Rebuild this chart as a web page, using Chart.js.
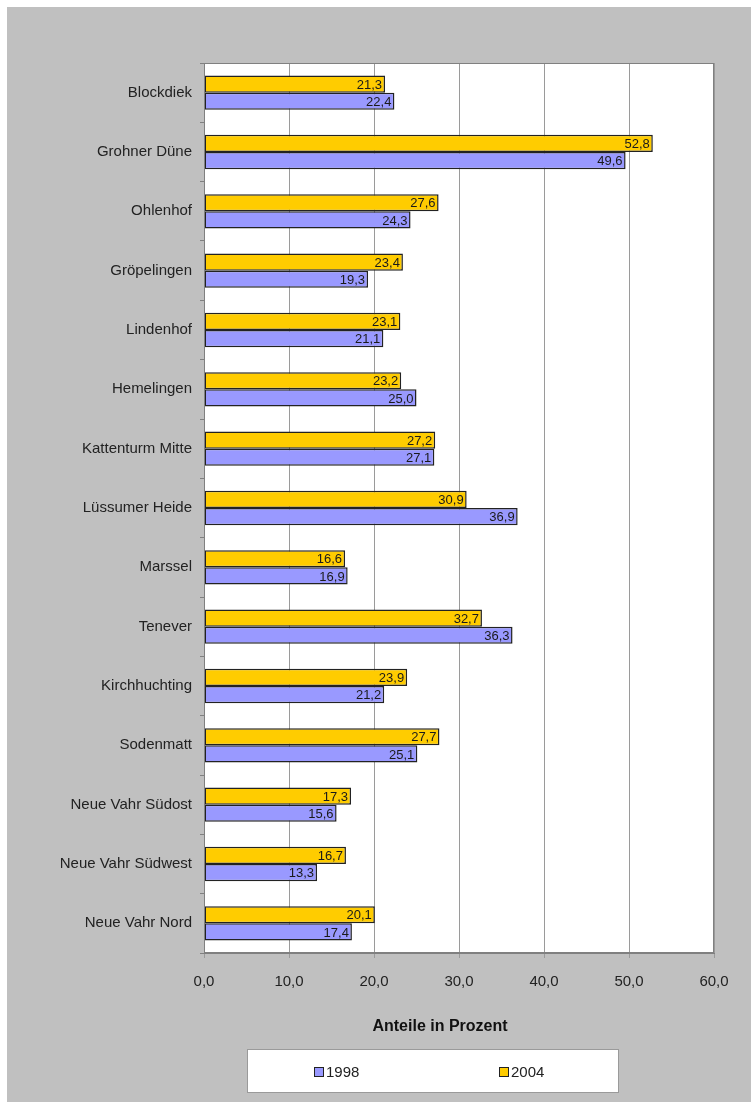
<!DOCTYPE html>
<html lang="de">
<head>
<meta charset="utf-8">
<title>Anteile in Prozent</title>
<script src="https://cdn.jsdelivr.net/npm/chart.js@4.4.1/dist/chart.umd.min.js"></script>
<style>
  html, body { margin: 0; padding: 0; background: #fff; }
  #panel { position: absolute; left: 7px; top: 7px; width: 744px; height: 1095px; background: #c0c0c0; }
</style>
</head>
<body>
<div id="panel"><canvas id="stadtteile" width="744" height="1095"></canvas></div>
<script>
const stadtteile = [
  'Blockdiek', 'Grohner Düne', 'Ohlenhof', 'Gröpelingen', 'Lindenhof',
  'Hemelingen', 'Kattenturm Mitte', 'Lüssumer Heide', 'Marssel', 'Tenever',
  'Kirchhuchting', 'Sodenmatt', 'Neue Vahr Südost', 'Neue Vahr Südwest', 'Neue Vahr Nord'
];
const anteil1998 = [22.4, 49.6, 24.3, 19.3, 21.1, 25.0, 27.1, 36.9, 16.9, 36.3, 21.2, 25.1, 15.6, 13.3, 17.4];
const anteil2004 = [21.3, 52.8, 27.6, 23.4, 23.1, 23.2, 27.2, 30.9, 16.6, 32.7, 23.9, 27.7, 17.3, 16.7, 20.1];
const xTickLabels = ['0,0', '10,0', '20,0', '30,0', '40,0', '50,0', '60,0'];
const achsenTitel = 'Anteile in Prozent';

const schrift = 'Liberation Sans, Arial, sans-serif';
const komma = v => v.toFixed(1).replace('.', ',');

// white plot area, value labels, frame, axis title and boxed legend
const rahmen = {
  id: 'rahmen',
  beforeDraw(chart) {
    const { ctx, chartArea: a } = chart;
    ctx.save();
    ctx.fillStyle = '#fff';
    ctx.fillRect(a.left, a.top, a.right - a.left, a.bottom - a.top);
    ctx.restore();
  },
  afterDatasetsDraw(chart) {
    const { ctx } = chart;
    ctx.save();
    ctx.font = '13px ' + schrift;
    ctx.fillStyle = '#1a1a1a';
    ctx.textAlign = 'right';
    ctx.textBaseline = 'middle';
    chart.data.datasets.forEach((ds, di) => {
      chart.getDatasetMeta(di).data.forEach((bar, i) => {
        ctx.fillText(komma(ds.data[i]), bar.x - 3, bar.y + 1);
      });
    });
    ctx.restore();
  },
  afterDraw(chart) {
    const { ctx, chartArea: a } = chart;
    ctx.save();
    ctx.strokeStyle = '#808080';
    ctx.lineWidth = 1;
    ctx.strokeRect(a.left + 0.5, a.top + 0.5, a.right - a.left - 1, a.bottom - a.top - 1);

    ctx.fillStyle = '#111';
    ctx.font = 'bold 16px ' + schrift;
    ctx.textAlign = 'center';
    ctx.textBaseline = 'middle';
    ctx.fillText(achsenTitel, 433, 1020);

    // legend box, 1998 first
    ctx.fillStyle = '#fff';
    ctx.fillRect(240, 1042, 371, 43);
    ctx.strokeStyle = '#9a9a9a';
    ctx.strokeRect(240.5, 1042.5, 371, 43);
    const eintraege = [chart.data.datasets[1], chart.data.datasets[0]];
    const xs = [307, 492];
    ctx.font = '15px ' + schrift;
    ctx.textAlign = 'left';
    eintraege.forEach((ds, i) => {
      ctx.fillStyle = ds.backgroundColor;
      ctx.fillRect(xs[i] + 0.5, 1060.5, 9, 9);
      ctx.strokeStyle = '#222';
      ctx.strokeRect(xs[i] + 0.5, 1060.5, 9, 9);
      ctx.fillStyle = '#222';
      ctx.fillText(ds.label, xs[i] + 12, 1066);
    });
    ctx.restore();
  }
};

new Chart(document.getElementById('stadtteile'), {
  type: 'bar',
  data: {
    labels: stadtteile,
    datasets: [
      {
        label: '2004',
        data: anteil2004,
        backgroundColor: '#ffcc00',
        borderColor: '#222',
        borderWidth: 1.5,
        borderSkipped: false
      },
      {
        label: '1998',
        data: anteil1998,
        backgroundColor: '#9999ff',
        borderColor: '#222',
        borderWidth: 1.5,
        borderSkipped: false
      }
    ]
  },
  options: {
    indexAxis: 'y',
    responsive: false,
    animation: false,
    categoryPercentage: 0.58,
    barPercentage: 1.0,
    layout: { padding: { top: 56, right: 37, bottom: 59, left: 0 } },
    plugins: {
      legend: { display: false },
      tooltip: { enabled: false }
    },
    scales: {
      x: {
        min: 0,
        max: 60,
        grid: { color: '#9a9a9a', tickLength: 5, drawTicks: true },
        border: { display: true, color: '#808080' },
        ticks: {
          stepSize: 10,
          padding: 15,
          color: '#222',
          font: { family: schrift, size: 15 },
          callback: (v, i) => xTickLabels[i]
        },
        afterFit(scale) { scale.height = 90; }
      },
      y: {
        grid: { drawOnChartArea: false, offset: true, tickLength: 4, color: '#808080' },
        border: { display: true, color: '#808080' },
        ticks: {
          padding: 8,
          color: '#222',
          font: { family: schrift, size: 15 }
        },
        afterFit(scale) { scale.width = 197; }
      }
    }
  },
  plugins: [rahmen]
});
</script>
</body>
</html>
